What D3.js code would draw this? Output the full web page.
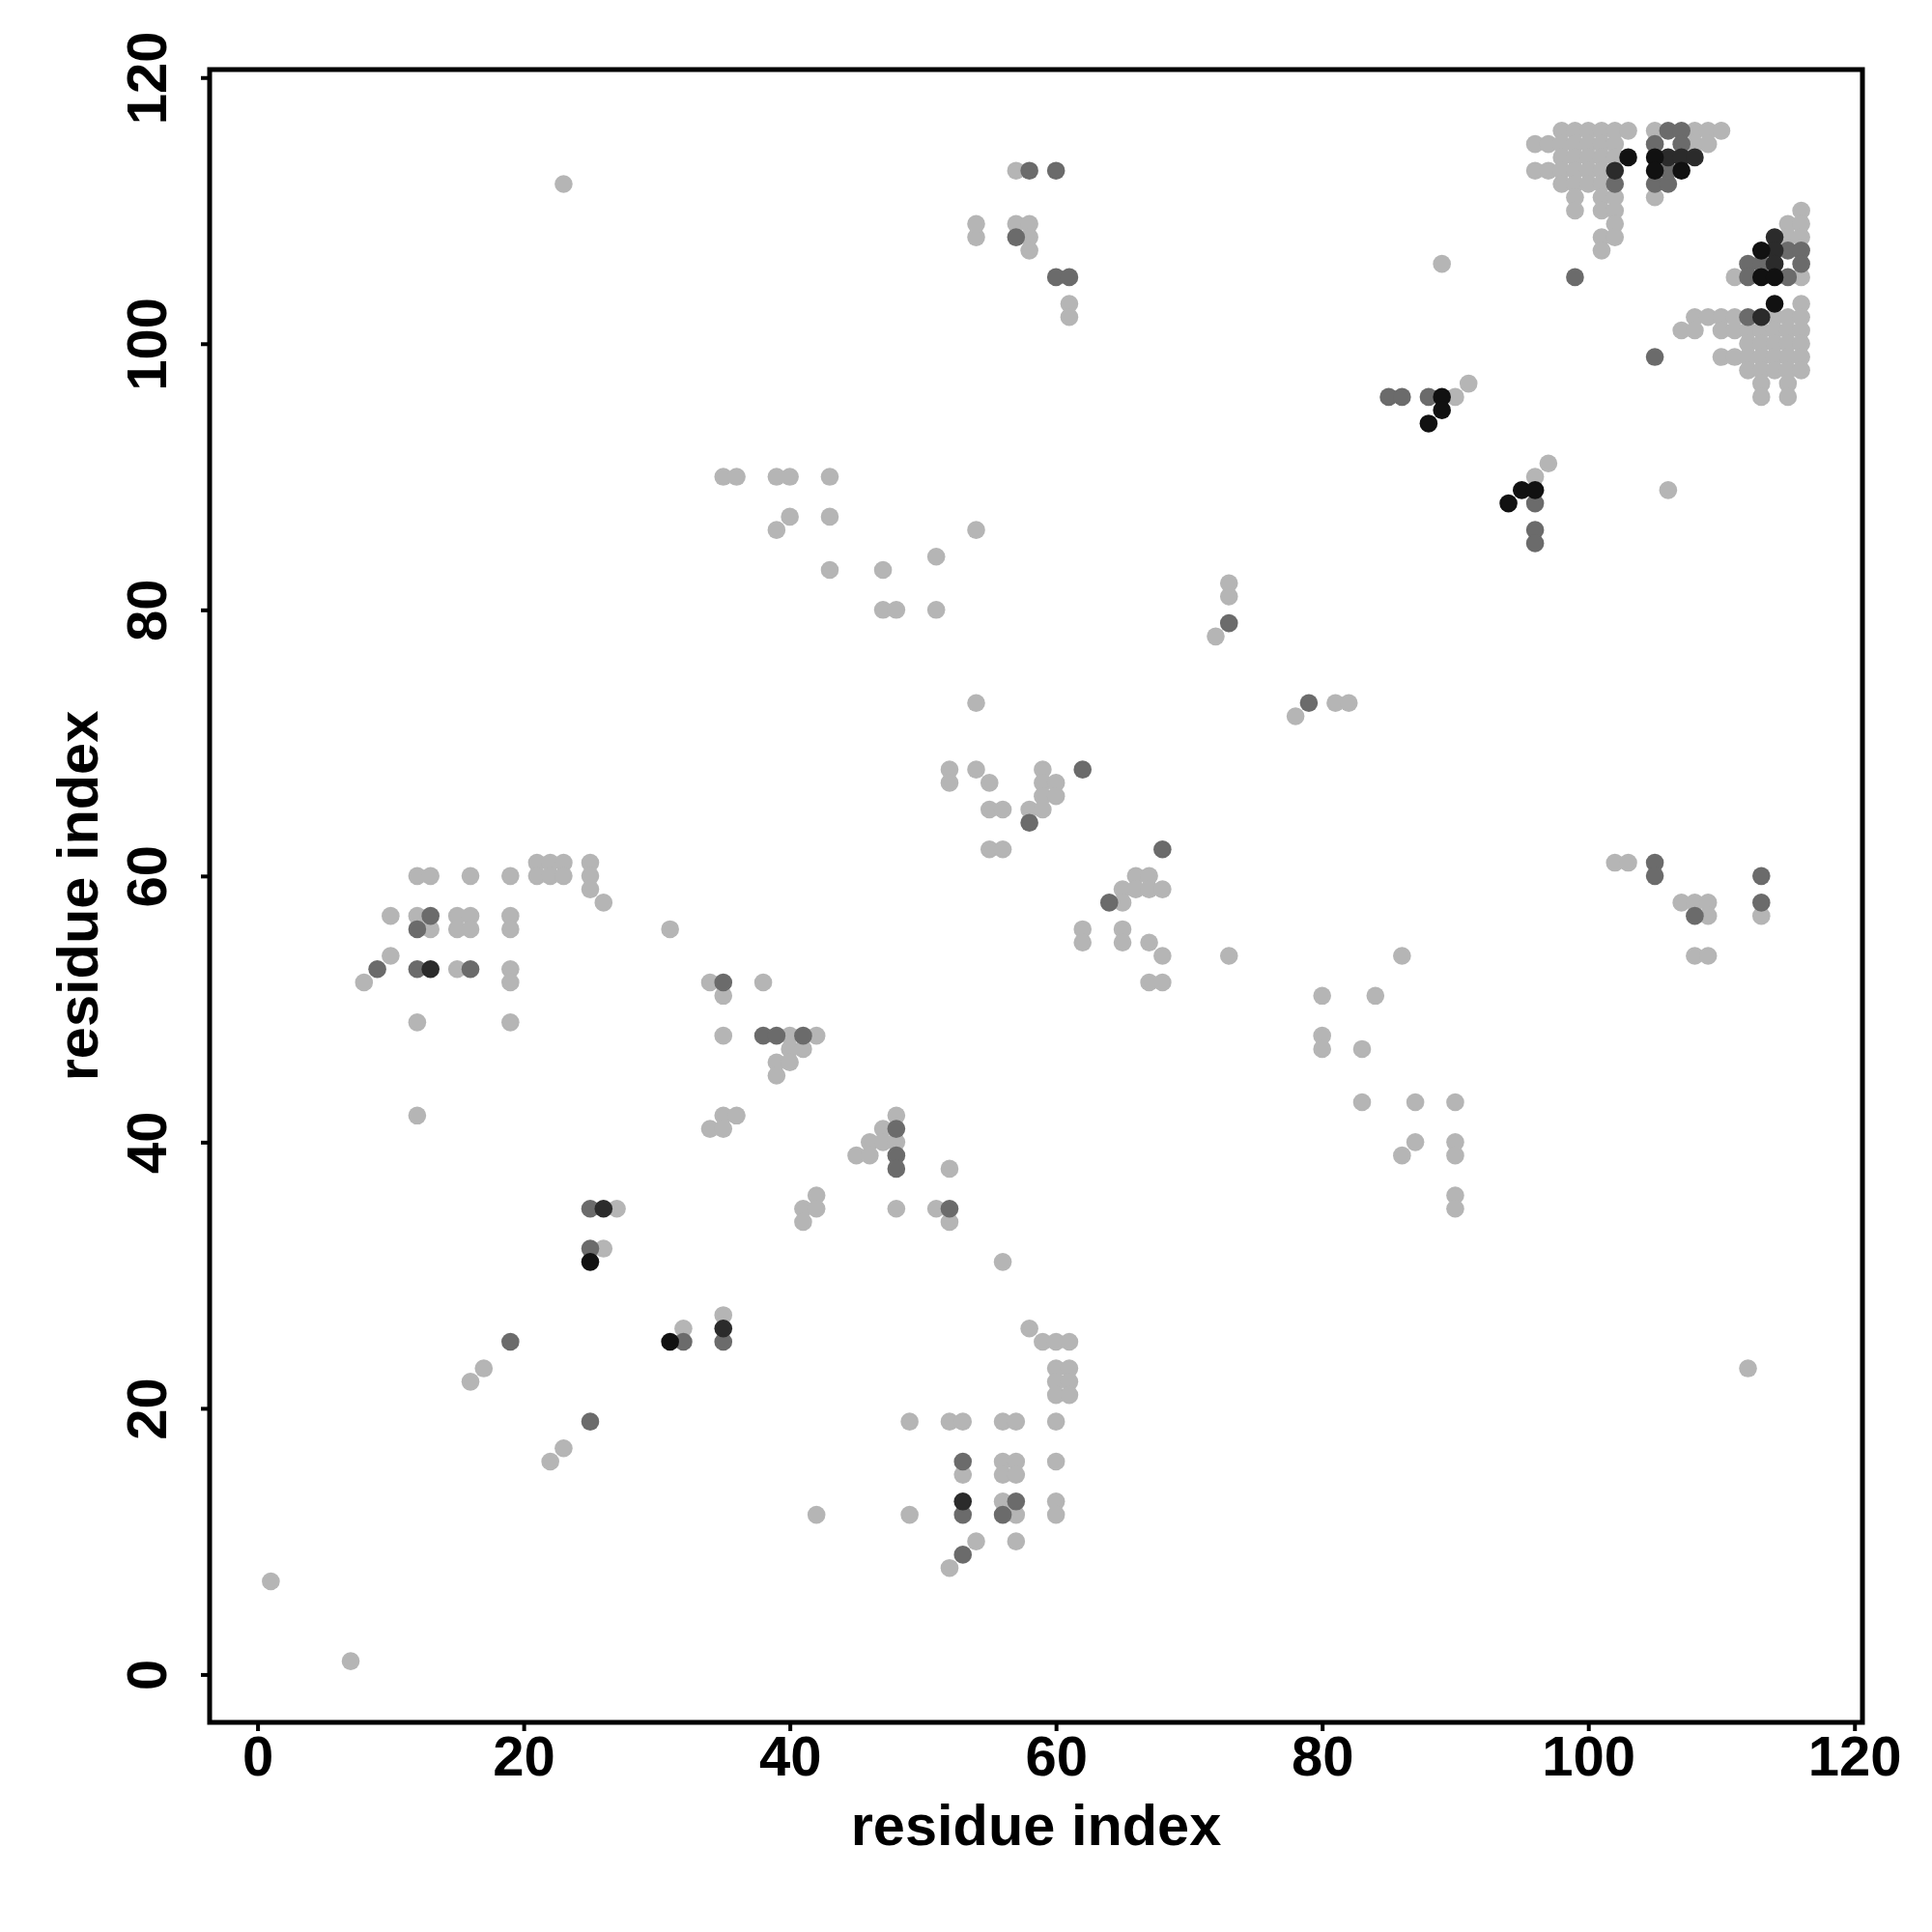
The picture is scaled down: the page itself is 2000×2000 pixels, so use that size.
<!DOCTYPE html>
<html>
<head>
<meta charset="utf-8">
<script src="https://cdn.jsdelivr.net/npm/d3@7"></script>
<style>
  html, body { margin: 0; padding: 0; background: #ffffff; }
  svg { display: block; }
  text { font-family: "Liberation Sans", Arial, Helvetica, sans-serif; font-weight: bold; }
</style>
</head>
<body>
<svg id="chart" width="2000" height="2000"></svg>
<script>
// ---- data: contact pairs [residue i, residue j] grouped by contact strength ----
const lightPts = [
  [1,7],[7,1],[22,16],[23,17],[16,22],[17,23],[26,32],[27,35],[32,26],[35,27],[23,112],
  [8,52],[10,54],[10,57],[12,60],[13,60],[16,60],[19,60],[21,61],[22,61],[23,61],[21,60],[22,60],[23,60],
  [25,61],[25,60],[25,59],[26,58],[12,57],[15,57],[16,57],[19,57],[13,56],[15,56],[16,56],[19,56],
  [15,53],[19,53],[19,52],[12,49],[19,49],[12,42],[31,56],
  [58,26],[59,25],[60,25],[61,25],[60,23],[61,23],[60,22],[61,22],[60,21],[61,21],
  [52,19],[53,19],[56,19],[57,19],[60,19],[56,16],[57,16],[60,16],[53,15],[56,15],[57,15],
  [56,13],[57,12],[60,13],[60,12],[54,10],[57,10],[52,8],
  [49,19],[49,12],[42,12],[56,31],[52,34],[51,35],[52,38],[48,35],
  [34,52],[38,52],[35,51],[35,48],[40,48],[42,48],[40,47],[41,47],[39,46],[40,46],[39,45],
  [35,42],[36,42],[34,41],[35,41],
  [48,42],[47,41],[46,40],[47,40],[48,40],[45,39],[46,39],[42,36],[41,35],[42,35],[41,34],
  [35,90],[36,90],[39,90],[40,90],[43,90],[39,86],[40,87],[43,87],[43,83],[47,83],[47,80],[48,80],
  [51,80],[51,84],[54,86],[54,73],[54,108],[54,109],[57,113],[57,109],[58,109],[58,108],[58,107],
  [61,103],[61,102],
  [52,68],[54,68],[59,68],[52,67],[55,67],[59,67],[60,67],[59,66],[60,66],[55,65],[56,65],[58,65],[59,65],
  [55,62],[56,62],
  [66,60],[67,60],[65,59],[66,59],[67,59],[68,59],[65,58],[62,56],[65,56],[62,55],[65,55],[67,55],
  [68,54],[67,52],[68,52],[73,54],
  [72,78],[73,81],[73,82],
  [78,72],[81,73],[82,73],[86,54],[80,51],[84,51],[80,48],[80,47],[83,47],[83,43],[87,43],[90,43],
  [87,40],[86,39],[90,40],[90,39],[90,36],[90,35],[112,23],
  [102,61],[103,61],[107,58],[108,58],[109,58],[109,57],[113,57],[108,54],[109,54],
  [90,96],[91,97],[89,106],[96,90],[97,91],[106,89],
  [98,116],[99,116],[100,116],[101,116],[102,116],[103,116],[105,116],[108,116],[109,116],[110,116],
  [96,115],[97,115],[98,115],[99,115],[100,115],[101,115],[102,115],[108,115],[109,115],
  [98,114],[99,114],[100,114],[101,114],[102,114],
  [96,113],[97,113],[98,113],[99,113],[100,113],[101,113],
  [98,112],[99,112],[100,112],[101,112],
  [99,111],[101,111],[102,111],[105,111],
  [99,110],[101,110],[102,110],[102,109],[101,108],[102,108],[101,107],
  [116,110],[115,109],[116,109],[115,108],[116,108],[111,105],[116,105],[116,103],
  [108,102],[109,102],[110,102],[111,102],[114,102],[115,102],[116,102],
  [107,101],[108,101],[110,101],[111,101],[112,101],[113,101],[114,101],[115,101],[116,101],
  [112,100],[113,100],[114,100],[115,100],[116,100],
  [110,99],[111,99],[112,99],[113,99],[114,99],[115,99],[116,99],
  [112,98],[113,98],[114,98],[115,98],[116,98],
  [113,97],[115,97],[113,96],[115,96]
];
const midPts = [
  [25,19],[19,25],[25,32],[25,35],[32,25],[35,25],[9,53],[13,57],[12,56],[12,53],[16,53],
  [53,16],[53,12],[56,12],[57,13],[53,9],[52,35],
  [35,52],[38,48],[39,48],[41,48],[48,41],[48,39],[48,38],
  [58,113],[60,113],[57,108],[60,105],[61,105],
  [62,68],[58,64],[68,62],[64,58],[73,79],[79,73],
  [105,61],[105,60],[113,60],[108,57],[113,58],
  [85,96],[86,96],[88,96],[96,88],[96,86],[96,85],[99,105],[105,99],
  [106,116],[107,116],[105,115],[107,115],[102,112],[105,112],[106,112],[106,113],
  [115,107],[116,107],[112,106],[113,106],[116,106],[112,105],[115,105],[112,102]
];
const darkPts = [
  [26,35],[35,26],[13,53],[53,13],
  [102,113],[106,114],[107,114],[108,114],
  [114,108],[114,107],[114,106],[113,102]
];
const blackPts = [
  [25,31],[31,25],[89,96],[88,94],[89,95],[94,88],[95,89],[96,89],
  [103,114],[105,114],[105,113],[107,113],[113,107],[113,105],[114,105],[114,103]
];
const levels = ["light", "mid", "dark", "black"];
const levelColors = ["#b5b5b5", "#6b6b6b", "#2b2b2b", "#111111"];
const tickValues = [0, 20, 40, 60, 80, 100, 120];
const xTitle = "residue index";
const yTitle = "residue index";

(function () {
  const svg = d3.select("#chart");
  const mLeft = 217, mRight = 1928, mTop = 72, mBottom = 1783;
  const domain = [-3.6, 120.6];
  const x = d3.scaleLinear().domain(domain).range([mLeft, mRight]);
  const y = d3.scaleLinear().domain(domain).range([mBottom, mTop]);
  const color = d3.scaleOrdinal().domain(levels).range(levelColors);

  const points = [].concat(
    lightPts.map(p => ({i: p[0], j: p[1], level: "light"})),
    midPts.map(p => ({i: p[0], j: p[1], level: "mid"})),
    darkPts.map(p => ({i: p[0], j: p[1], level: "dark"})),
    blackPts.map(p => ({i: p[0], j: p[1], level: "black"}))
  );

  svg.append("g")
    .selectAll("circle")
    .data(points)
    .join("circle")
    .attr("cx", d => x(d.i))
    .attr("cy", d => y(d.j))
    .attr("r", 9.3)
    .attr("fill", d => color(d.level));

  svg.append("rect")
    .attr("x", mLeft).attr("y", mTop)
    .attr("width", mRight - mLeft).attr("height", mBottom - mTop)
    .attr("fill", "none").attr("stroke", "#000").attr("stroke-width", 5);

  const fontFam = '"Liberation Sans", Arial, sans-serif';

  const xAxis = svg.append("g")
    .attr("transform", `translate(0,${mBottom})`)
    .call(d3.axisBottom(x).tickValues(tickValues).tickSize(9).tickFormat(d3.format("d")));
  xAxis.select(".domain").remove();
  xAxis.selectAll(".tick line").attr("stroke", "#000").attr("stroke-width", 4);
  xAxis.selectAll(".tick text")
    .attr("y", 55).attr("dy", 0)
    .attr("fill", "#000")
    .style("font-size", "58px").style("font-weight", "bold")
    .style("font-family", fontFam);

  const yAxis = svg.append("g")
    .attr("transform", `translate(${mLeft},0)`)
    .call(d3.axisLeft(y).tickValues(tickValues).tickSize(9).tickFormat(d3.format("d")));
  yAxis.select(".domain").remove();
  yAxis.selectAll(".tick line").attr("stroke", "#000").attr("stroke-width", 4);
  yAxis.selectAll(".tick text")
    .attr("x", 0).attr("y", 0).attr("dy", 0)
    .attr("text-anchor", "middle")
    .attr("transform", "translate(-45,0) rotate(-90)")
    .attr("fill", "#000")
    .style("font-size", "58px").style("font-weight", "bold")
    .style("font-family", fontFam);

  svg.append("text")
    .attr("x", (mLeft + mRight) / 2).attr("y", 1910)
    .attr("text-anchor", "middle")
    .style("font-size", "59.5px")
    .text(xTitle);
  svg.append("text")
    .attr("transform", `translate(101,${(mTop + mBottom) / 2}) rotate(-90)`)
    .attr("text-anchor", "middle")
    .style("font-size", "59.5px")
    .text(yTitle);
})();
</script>
</body>
</html>
